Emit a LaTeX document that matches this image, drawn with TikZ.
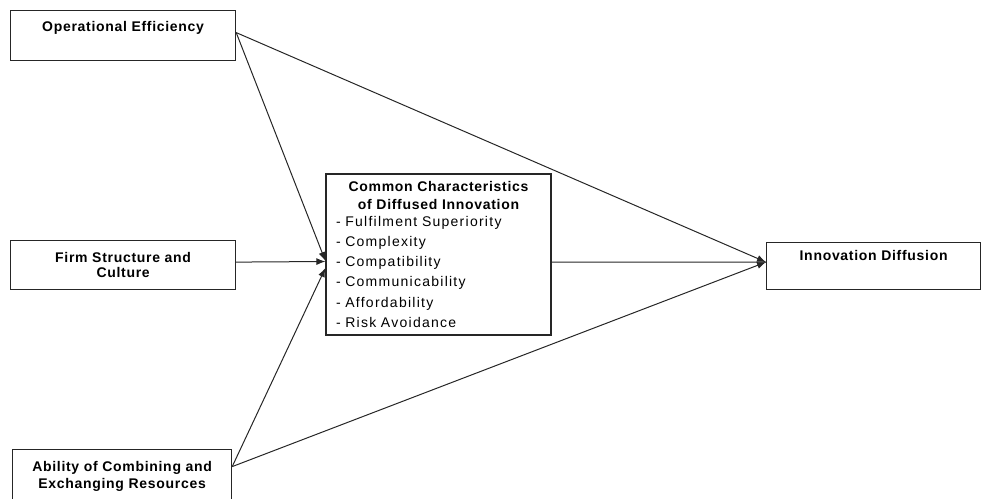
\documentclass[tikz,border=0pt]{standalone}
\usepackage{fontspec}
\setmainfont{Liberation Sans}
\newfontfamily\headfont[LetterSpace=5]{Liberation Sans}
\newfontfamily\listfont[LetterSpace=9]{Liberation Sans}
\usepackage{tikz}
\usetikzlibrary{positioning,calc,arrows.meta}

\begin{document}
\begin{tikzpicture}[x=1pt,y=-1pt,
    box/.style={draw=black!85, line width=1.2pt, rectangle, inner xsep=8pt,
      font=\headfont\bfseries\fontsize{14}{15}\selectfont, align=center},
    link/.style={draw=black!85, line width=1pt, -{Latex[length=9pt,width=7pt]}},
    plain/.style={draw=black!85, line width=1pt}]
    \useasboundingbox (0,0) rectangle (981,498);

    % Drivers on the left
    \node [box, anchor=north west, minimum width=225pt, inner ysep=6pt,
      text height=15pt, text depth=23pt] (ops) at (10,10) {Operational Efficiency};
    \node [box, anchor=north west, minimum width=225pt, minimum height=49pt] (firm) at (10,240)
      {Firm Structure and\\ Culture};
    \node [box, anchor=north west, minimum width=219pt, minimum height=53pt,
      font=\headfont\bfseries\fontsize{14}{17}\selectfont] (abil) at (12,449)
      {Ability of Combining and\\ Exchanging Resources};

    % Characteristics in the middle
    \node [draw=black!85, line width=1.2pt, rectangle, minimum width=225pt, minimum height=161pt,
      inner xsep=10pt, text width=205pt, align=left,
      font=\listfont\fontsize{14}{20.2}\selectfont] (dci) at (438.5,254.5)
      {\makebox[\linewidth]{\headfont\bfseries Common Characteristics}\\[-3pt]
       \makebox[\linewidth]{\headfont\bfseries of Diffused Innovation}\\[-3pt]
       - Fulfilment Superiority\\
       - Complexity\\
       - Compatibility\\
       - Communicability\\
       - Affordability\\
       - Risk Avoidance};

    % Outcome
    \node [box, anchor=north west, minimum width=214pt, inner ysep=6pt,
      text height=12pt, text depth=23pt] (diff) at (766,242) {Innovation Diffusion};

    % Links
    \draw [link] ([yshift=3pt]ops.east) -- ([yshift=-6.5pt]dci.west);
    \draw [link] ([yshift=3pt]firm.east) -- ([yshift=-7pt]dci.west);
    \draw [link] ([yshift=9.5pt]abil.east) -- ([yshift=-13.5pt]dci.west);
    \draw [link] ([yshift=3pt]ops.east) -- ([yshift=4pt]diff.west);
    \draw [link] ([yshift=9.5pt]abil.east) -- ([yshift=4pt]diff.west);
    \draw [plain] ([yshift=-7.5pt]dci.east) -- ([yshift=4pt]diff.west);
\end{tikzpicture}
\end{document}
